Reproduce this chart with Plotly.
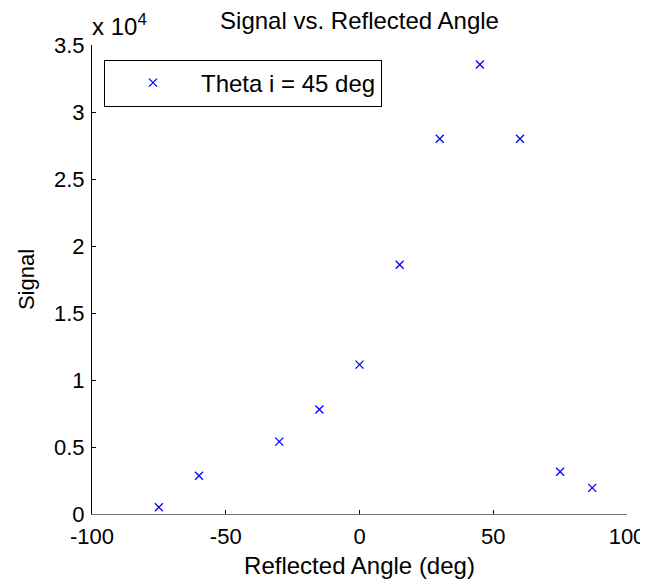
import plotly.graph_objects as go

# Data
reflected_angle = [-75, -60, -30, -15, 0, 15, 30, 45, 60, 75, 87]
signal = [500, 2860, 5400, 7800, 11150, 18600, 28000, 33550, 28000, 3150, 1950]
series_name = "Theta i = 45 deg"

x_tickvals = [-100, -50, 0, 50, 100]
x_ticktext = ["-100", "-50", "0", "50", "100"]
y_tickvals = [0, 5000, 10000, 15000, 20000, 25000, 30000, 35000]
y_ticktext = ["0", "0.5", "1", "1.5", "2", "2.5", "3", "3.5"]

FONT = "Liberation Sans, Arial, Helvetica, sans-serif"
FS_TICK = 22
FS_TEXT = 24

# The page body adds an 8px offset, so the figure is 8px smaller each way
W, H = 640, 571

fig = go.Figure()
fig.add_trace(go.Scatter(
    x=reflected_angle, y=signal, mode="markers", name=series_name,
    marker=dict(symbol="x-thin", size=8, color="#0000FF",
                line=dict(width=1.3, color="#0000FF")),
))

fig.update_layout(
    width=W, height=H,
    margin=dict(l=84, r=21, t=37, b=65, autoexpand=False),
    paper_bgcolor="white", plot_bgcolor="white",
    font=dict(family=FONT, size=FS_TICK, color="black"),
    showlegend=True,
    title=dict(text="Signal vs. Reflected Angle", x=0.5, xref="paper",
               y=1 - 13 / H, yref="container", yanchor="middle",
               xanchor="center", font=dict(size=FS_TEXT)),
    legend=dict(x=0.0224, y=0.969, xanchor="left", yanchor="top",
                bordercolor="black", borderwidth=1, bgcolor="white",
                itemwidth=86, font=dict(size=FS_TEXT)),
    xaxis=dict(range=[-100, 100], tickvals=x_tickvals, ticktext=x_ticktext,
               automargin=False,
               showgrid=False, zeroline=False, showline=True,
               linecolor="#707070", linewidth=1,
               ticks="inside", ticklen=4, tickcolor="black",
               ticklabelstandoff=3, tickfont=dict(size=FS_TICK),
               title=dict(text="Reflected Angle (deg)", standoff=11,
                          font=dict(size=FS_TEXT))),
    yaxis=dict(range=[0, 35000], tickvals=y_tickvals, ticktext=y_ticktext,
               automargin=False,
               showgrid=False, zeroline=False, showline=True,
               linecolor="black", linewidth=1,
               ticks="inside", ticklen=4, tickcolor="black",
               ticklabelstandoff=2, tickfont=dict(size=FS_TICK),
               title=dict(text="Signal", standoff=13,
                          font=dict(size=FS_TICK))),
    annotations=[dict(text="x 10<sup>4</sup>", xref="paper", yref="paper",
                      x=0, y=1, xanchor="left", yanchor="bottom",
                      xshift=-2, yshift=3,
                      showarrow=False, font=dict(size=24))],
)

fig.write_html("out.html")
